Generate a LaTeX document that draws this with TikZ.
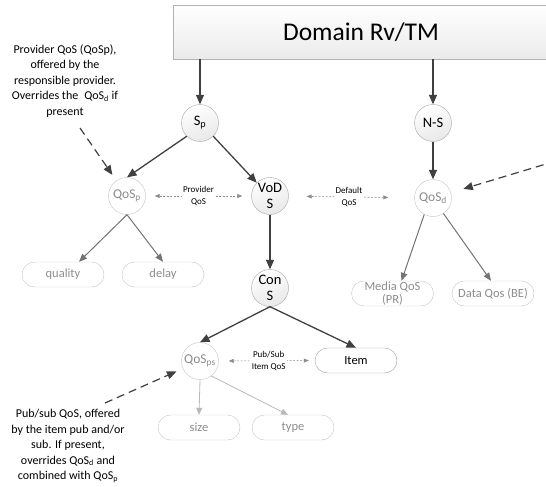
\documentclass[tikz,border=0pt]{standalone}
\usepackage{fontspec}
\setmainfont{Carlito}
\usetikzlibrary{arrows.meta,calc}
\definecolor{dk}{HTML}{404040}
\definecolor{lgline}{HTML}{C4C4C4}
\definecolor{lgtext}{HTML}{8C8C8C}
\begin{document}
\begin{tikzpicture}[x=1pt,y=-1pt,
  titlebox/.style={draw=black!30, top color=white, bottom color=black!8, minimum width=376pt, minimum height=54pt, inner sep=0pt, font=\fontsize{25.5}{28}\selectfont},
  darkcirc/.style={circle, draw=black!35, top color=white, bottom color=black!9, shading angle=20, minimum size=37pt, inner sep=0pt, align=center, font=\fontsize{14.5}{16}\selectfont},
  lightcirc/.style={circle, draw=lgline, fill=white, minimum size=37pt, inner sep=0pt, text=lgtext, font=\fontsize{13.5}{15}\selectfont},
  pill/.style={draw=lgline, rounded corners=12.5pt, minimum width=82pt, minimum height=25pt, inner sep=0pt, text=lgtext, font=\fontsize{12.5}{13}\selectfont},
  darkpill/.style={pill, draw=black!38, text=black},
  darkarr/.style={draw=dk, line width=1.3pt, -{Triangle[length=9.5pt,width=8pt]}},
  grayarr/.style={draw=black!55, line width=1pt, -{Triangle[length=8pt,width=6.5pt]}},
  lightarr/.style={draw=black!28, line width=0.8pt, -{Triangle[length=7pt,width=6pt]}},
  dbl/.style={draw=black!45, line width=0.6pt, dash pattern=on 2pt off 1.5pt, {Triangle[length=5pt,width=4pt]}-{Triangle[length=5pt,width=4pt]}},
  smalllab/.style={fill=white, inner sep=1.5pt, align=center, font=\fontsize{9}{12}\selectfont},
  annot/.style={draw=dk, line width=1.2pt, dash pattern=on 8pt off 5pt, -{Triangle[length=9.5pt,width=8pt]}},
  note/.style={align=center, font=\fontsize{12}{15.5}\selectfont}
]
\useasboundingbox (0,0) rectangle (546,487);
\clip (0,0) rectangle (546,487);

% title
\node[titlebox] (domain) at (361,32) {Domain Rv/TM};

% circles
\node[darkcirc] (sp) at (200,123) {S\textsubscript{p}};
\node[darkcirc] (ns) at (433,123) {N-S};
\node[darkcirc] (vod) at (270,196) {VoD\\S};
\node[darkcirc] (cons) at (270,288) {Con\\S};
\node[lightcirc] (qosp) at (127,196) {QoS\textsubscript{p}};
\node[lightcirc] (qosd) at (433,198) {QoS\textsubscript{d}};
\node[lightcirc] (qosps) at (200,361) {QoS\textsubscript{ps}};

% pills
\node[pill] (quality) at (63,274.5) {quality};
\node[pill] (delay) at (163,274.5) {delay};
\node[pill] (media) at (392.5,293.5) {};
\node[text=lgtext, align=center, font=\fontsize{12.5}{13}\selectfont] (mediatxt) at (media) {Media QoS\\(PR)};
\node[pill] (data) at (493,293.5) {Data Qos (BE)};
\node[darkpill] (item) at (356,360.5) {Item};
\node[pill] (size) at (199,427.5) {size};
\node[pill] (type) at (293,427.5) {type};

% notes
\node[note] (note1) at (65,81) {Provider QoS (QoSp),\\offered by the\\responsible provider.\\Overrides the\enspace QoS\textsubscript{d} if\\present};
\node[note] (note2) at (68,446) {Pub/sub QoS, offered\\by the item pub and/or\\sub. If present,\\overrides QoS\textsubscript{d} and\\combined with QoS\textsubscript{p}};

% dark arrows
\draw[darkarr] (sp |- domain.south) -- (sp);
\draw[darkarr] (ns |- domain.south) -- (ns);
\draw[darkarr] (ns) -- (qosd);
\draw[darkarr] (sp.south west) -- (qosp.north);
\draw[darkarr] (sp.south east) -- (vod.north west);
\draw[darkarr] (vod) -- (cons);
\draw[darkarr] (cons.south) -- (qosps.north);
\draw[darkarr] (cons.south) -- (item.north);

% gray arrows
\draw[grayarr] (qosp.south) -- ([xshift=16pt]quality.north);
\draw[grayarr] (qosp.south) -- (delay.north);
\draw[grayarr] (qosd.-118) -- ([xshift=9pt]media.north);
\draw[grayarr] (qosd.-56) -- ([xshift=-2pt]data.north);
\draw[lightarr] (qosps.south) -- (size.north);
\draw[lightarr] (qosps.-53) -- ([xshift=-5pt]type.north);

% dotted double arrows
\draw[dbl, shorten <=9pt, shorten >=9pt] (qosp) -- (vod) node[smalllab, midway] (lab1) {Provider\\QoS};
\draw[dbl, shorten <=18pt, shorten >=26pt] (vod) -- (qosd) node[smalllab, pos=0.48] (lab2) {Default\\QoS};
\draw[dbl, shorten <=10pt, shorten >=6pt] (qosps.east) -- (item.west) node[smalllab, pos=0.52] (lab3) {Pub/Sub\\Item QoS};

% annotation arrows
\coordinate (a1) at (80,128);
\coordinate (a2) at (556,161);
\coordinate (a3) at (105,403);
\draw[annot, shorten >=7pt] (a1) -- (qosp);
\draw[annot, shorten >=13pt] (a2) -- (qosd);
\draw[annot, shorten >=7pt] (a3) -- (qosps);
\end{tikzpicture}
\end{document}
